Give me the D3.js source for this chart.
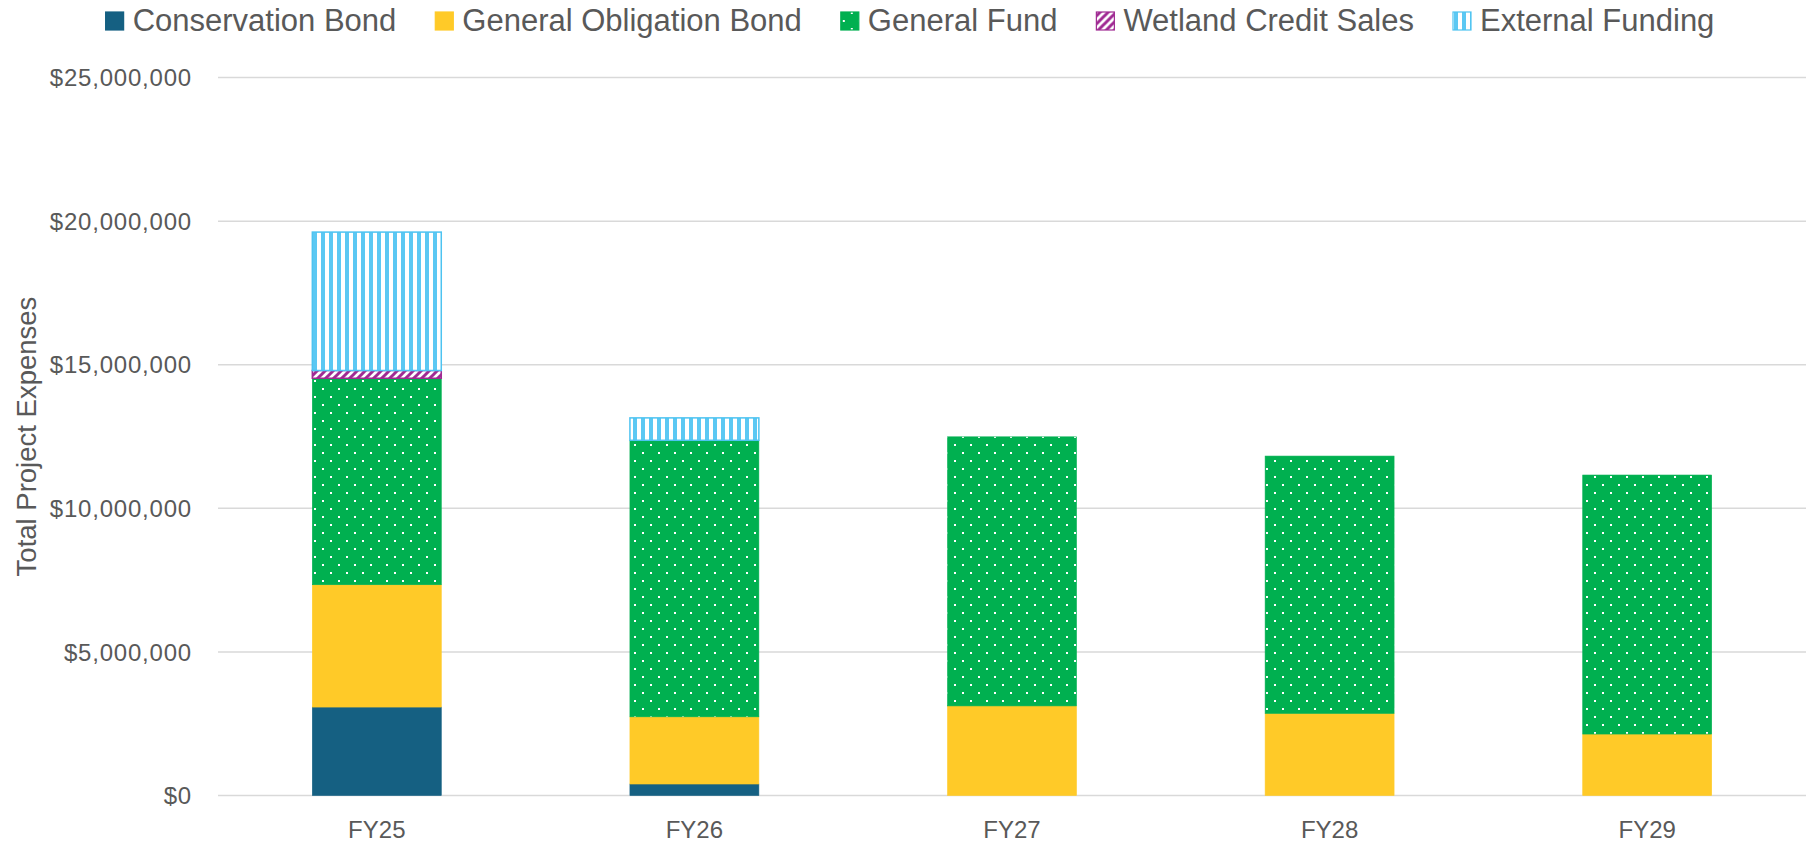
<!DOCTYPE html>
<html lang="en">
	<head>
		<meta charset="utf-8">
		<title>project expenses by funding source</title>
		<script type="text/javascript" src="https://cdn.jsdelivr.net/npm/d3@7"></script>
		<style type="text/css">
            body{margin:0;background:#fff;font-family:"Liberation Sans",Arial,sans-serif;}
            #chart1{width:1818px;height:862px;}
		</style>
	</head>
	<body>
    <div id="chart1"></div>
		<script type="text/javascript">
            // values (dollars)
            var years = ["FY25","FY26","FY27","FY28","FY29"]
            var conservationBond = [3080000, 400000, 0, 0, 0]
            var generalObligationBond = [4260000, 2340000, 3120000, 2860000, 2140000]
            var generalFund = [7190000, 9630000, 9370000, 8960000, 9020000]
            var wetlandCreditSales = [270000, 0, 0, 0, 0]
            var externalFunding = [4820000, 780000, 0, 0, 0]
            var seriesNames = ["Conservation Bond","General Obligation Bond","General Fund","Wetland Credit Sales","External Funding"]
            var yTicks = [0, 5000000, 10000000, 15000000, 20000000, 25000000]

            var w = 1818
            var h = 862
            var margin = {top:77.6, right:12, bottom:66.5, left:218}

            var keys = ["cb","go","gf","wcs","ef"]
            var rows = years.map(function(y,i){
                return {year:y, cb:conservationBond[i], go:generalObligationBond[i], gf:generalFund[i], wcs:wetlandCreditSales[i], ef:externalFunding[i]}
            })
            var stacked = d3.stack().keys(keys)(rows)

            var xScale = d3.scaleBand().domain(years).range([margin.left, w-margin.right]).paddingInner(0.594).paddingOuter(0.297)
            var yScale = d3.scaleLinear().domain([0,25000000]).range([h-margin.bottom, margin.top])

            var svg = d3.select("#chart1").append("svg")
                        .attr("width",w)
                        .attr("height",h)

            // fill patterns
            var defs = svg.append("defs")
            var dots = defs.append("pattern").attr("id","dots").attr("patternUnits","userSpaceOnUse")
                        .attr("width",16).attr("height",16).attr("x",2).attr("y",4)
            dots.append("rect").attr("width",16).attr("height",16).attr("fill","#00B050")
            dots.append("rect").attr("x",0).attr("y",0).attr("width",2).attr("height",2).attr("fill","#fff")
            dots.append("rect").attr("x",8).attr("y",8).attr("width",2).attr("height",2).attr("fill","#fff")

            var hatch = defs.append("pattern").attr("id","hatch").attr("patternUnits","userSpaceOnUse")
                        .attr("width",8).attr("height",8)
            hatch.append("rect").attr("width",8).attr("height",8).attr("fill","#fff")
            hatch.append("path").attr("d","M0,8 L8,0 M-2,2 L2,-2 M6,10 L10,6")
                .attr("stroke","#A02B93").attr("stroke-width",3)

            var stripes = defs.append("pattern").attr("id","stripes").attr("patternUnits","userSpaceOnUse")
                        .attr("width",8).attr("height",8).attr("x",1)
            stripes.append("rect").attr("width",8).attr("height",8).attr("fill","#fff")
            stripes.append("rect").attr("width",4).attr("height",8).attr("fill","#5BC8F3")

            var fills = {cb:"#156082", go:"#FFCA28", gf:"url(#dots)", wcs:"url(#hatch)", ef:"url(#stripes)"}
            var strokes = {cb:"#156082", go:"#FFCA28", gf:"#00B050", wcs:"#A02B93", ef:"#4DC3F1"}

            // gridlines
            svg.append("g").selectAll("line")
                .data(yTicks)
                .enter()
                .append("line")
                .attr("x1",margin.left)
                .attr("x2",w-margin.right)
                .attr("y1",function(d){ return yScale(d) })
                .attr("y2",function(d){ return yScale(d) })
                .attr("stroke","#D9D9D9")
                .attr("stroke-width",1.5)

            // y tick labels
            svg.append("g").selectAll("text")
                .data(yTicks)
                .enter()
                .append("text")
                .attr("x",margin.left-26)
                .attr("y",function(d){ return yScale(d) })
                .attr("dy","0.36em")
                .attr("text-anchor","end")
                .attr("fill","#595959")
                .attr("font-size",24)
                .attr("letter-spacing",0.8)
                .text(function(d){ return "$" + d3.format(",")(d) })

            // stacked bars
            svg.append("g").selectAll("g")
                .data(stacked)
                .enter()
                .append("g")
                .each(function(s){
                    d3.select(this).selectAll("rect")
                        .data(s.filter(function(d){ return d[1]-d[0] > 0 }))
                        .enter()
                        .append("rect")
                        .attr("x",function(d){ return xScale(d.data.year) })
                        .attr("y",function(d){ return yScale(d[1]) })
                        .attr("width",xScale.bandwidth())
                        .attr("height",function(d){ return yScale(d[0]) - yScale(d[1]) })
                        .attr("fill",fills[s.key])
                        .attr("stroke",strokes[s.key])
                        .attr("stroke-width",function(){ return (s.key=="wcs"||s.key=="ef") ? 1.5 : 0.6 })
                })

            // x labels
            svg.append("g").selectAll("text")
                .data(years)
                .enter()
                .append("text")
                .attr("x",function(d){ return xScale(d) + xScale.bandwidth()/2 })
                .attr("y",838)
                .attr("text-anchor","middle")
                .attr("fill","#595959")
                .attr("font-size",24)
                .text(function(d){ return d })

            // y axis title
            svg.append("text")
                .attr("transform","translate(36," + ((margin.top + h - margin.bottom)/2) + ") rotate(-90)")
                .attr("text-anchor","middle")
                .attr("fill","#595959")
                .attr("font-size",27.5)
                .text("Total Project Expenses")

            // legend, laid out from measured text widths and centred
            var legend = svg.append("g")
            var items = legend.selectAll("g")
                .data(seriesNames)
                .enter()
                .append("g")
            items.append("rect")
                .attr("x",0).attr("y",12).attr("width",18).attr("height",18)
                .attr("fill",function(d,i){ return fills[keys[i]] })
                .attr("stroke",function(d,i){ return strokes[keys[i]] })
                .attr("stroke-width",1.2)
            items.append("text")
                .attr("x",27)
                .attr("y",30.5)
                .attr("fill","#595959")
                .attr("font-size",31)
                .text(function(d){ return d })
            var gap = 39
            var pos = 0
            items.each(function(){
                d3.select(this).attr("transform","translate(" + pos + ",0)")
                pos += this.getBBox().width + gap
            })
            pos -= gap
            legend.attr("transform","translate(" + (910 - pos/2) + ",0)")
        </script>
	</body>
</html>
